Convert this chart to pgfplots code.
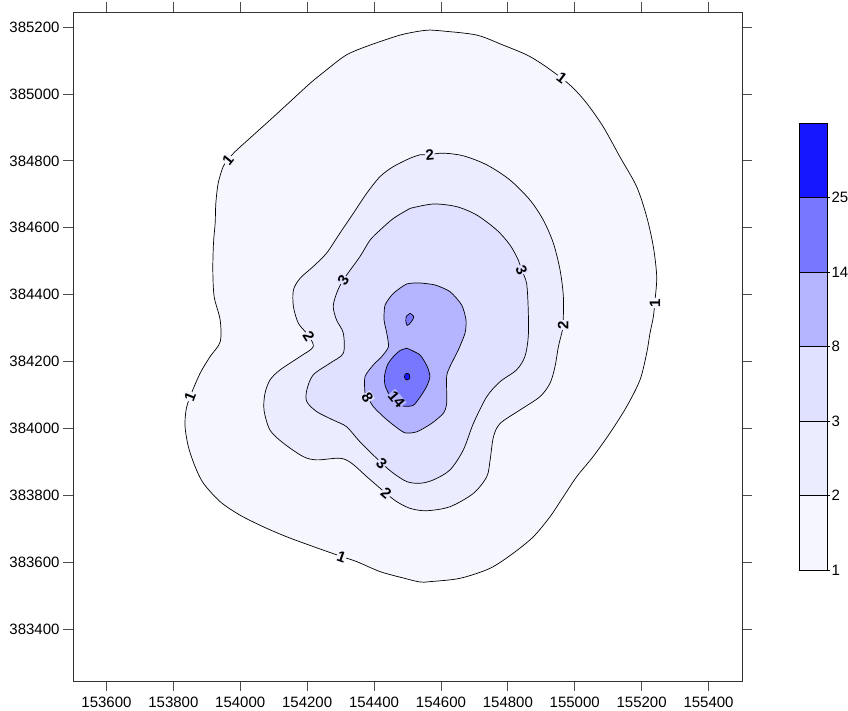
\documentclass[border=0pt]{standalone}
\usepackage{fontspec}
\setmainfont{Liberation Sans}
\usepackage{pgfplots}
\pgfplotsset{compat=1.18}
\definecolor{c1}{RGB}{246,246,255}
\definecolor{c2}{RGB}{236,236,255}
\definecolor{c3}{RGB}{224,224,255}
\definecolor{c4}{RGB}{180,180,255}
\definecolor{c5}{RGB}{120,120,255}
\definecolor{c6}{RGB}{22,22,255}
\begin{document}
\begin{tikzpicture}[x=1pt,y=1pt]
\useasboundingbox (0,0) rectangle (848,711);
\begin{axis}[
  at={(73pt,30pt)}, anchor=south west,
  scale only axis, width=669pt, height=669pt,
  xmin=153500, xmax=155500, ymin=383245, ymax=385245,
  xtick={153600,153800,154000,154200,154400,154600,154800,155000,155200,155400},
  ytick={383400,383600,383800,384000,384200,384400,384600,384800,385000,385200},
  scaled ticks=false,
  /pgf/number format/fixed,
  /pgf/number format/precision=0,
  /pgf/number format/1000 sep={},
  /pgf/number format/assume math mode=true,
  tick align=outside, major tick length=10pt,
  tick label style={font=\fontsize{15}{18}\selectfont},
  xticklabel style={yshift=-3pt},
  axis line style={line width=0.8pt, black!80},
  tick style={line width=0.8pt, black!70},
  clip=true,
]
\addplot[fill=c1, draw=black, line width=0.7pt, smooth, tension=0.5] coordinates {
(154567,385191)(154607,385188)(154707,385176)(154786,385146)(154856,385117)(154906,385087)(154961,385047)(154996,385017)(155036,384972)(155085,384902)(155135,384812)(155185,384723)(155215,384633)(155235,384543)(155245,384454)(155240,384384)(155235,384334)(155225,384285)(155215,384225)(155195,384145)(155155,384065)(155105,383986)(155055,383916)(155006,383856)(154966,383796)(154926,383736)(154876,383676)(154816,383627)(154747,383582)(154657,383552)(154567,383542)(154537,383541)(154487,383553)(154418,383572)(154348,383602)(154303,383617)(154218,383647)(154139,383676)(154069,383706)(153999,383741)(153940,383781)(153890,383836)(153865,383886)(153845,383945)(153835,384005)(153838,384055)(153850,384095)(153880,384165)(153910,384215)(153940,384259)(153940,384324)(153922,384394)(153918,384474)(153920,384554)(153925,384614)(153927,384673)(153934,384733)(153949,384783)(153963,384803)(153984,384827)(154039,384877)(154089,384922)(154149,384977)(154209,385032)(154258,385072)(154318,385117)(154388,385146)(154478,385176)(154537,385188)(154567,385191)
} -- cycle;
\addplot[fill=c2, draw=black, line width=0.7pt, smooth, tension=0.5] coordinates {
(154537,384818)(154567,384819)(154607,384823)(154667,384815)(154737,384788)(154806,384743)(154866,384683)(154906,384623)(154936,384554)(154956,384474)(154966,384394)(154965,384309)(154961,384285)(154951,384244)(154941,384185)(154926,384135)(154896,384095)(154836,384055)(154777,384015)(154757,383975)(154747,383906)(154737,383856)(154697,383806)(154627,383766)(154557,383754)(154508,383761)(154468,383781)(154436,383806)(154378,383856)(154333,383896)(154298,383911)(154229,383906)(154188,383916)(154129,383956)(154089,383995)(154071,384055)(154074,384105)(154089,384145)(154119,384175)(154179,384215)(154218,384244)(154203,384279)(154174,384314)(154159,384364)(154159,384414)(154179,384449)(154218,384484)(154258,384524)(154298,384584)(154338,384643)(154378,384703)(154418,384753)(154458,384783)(154508,384808)(154537,384818)
} -- cycle;
\addplot[fill=c3, draw=black, line width=0.7pt, smooth, tension=0.5] coordinates {
(154508,384658)(154577,384671)(154647,384663)(154707,384638)(154767,384593)(154806,384549)(154831,384504)(154841,384474)(154856,384434)(154861,384354)(154861,384274)(154851,384215)(154826,384175)(154777,384140)(154737,384095)(154697,384015)(154667,383936)(154627,383876)(154577,383846)(154537,383836)(154498,383841)(154458,383866)(154423,383896)(154358,383960)(154318,384005)(154278,384025)(154229,384050)(154199,384080)(154199,384115)(154218,384160)(154268,384195)(154308,384225)(154308,384285)(154288,384324)(154278,384364)(154288,384404)(154308,384444)(154358,384514)(154388,384563)(154418,384593)(154458,384628)(154508,384658)
} -- cycle;
\addplot[fill=c4, draw=black, line width=0.7pt, smooth, tension=0.4] coordinates {
(154537,384435)(154582,384429)(154627,384409)(154662,384369)(154675,384324)(154672,384285)(154652,384235)(154627,384185)(154617,384155)(154617,384075)(154607,384045)(154572,384015)(154528,383990)(154492,383987)(154458,384010)(154428,384035)(154398,384065)(154382,384091)(154373,384105)(154373,384155)(154398,384190)(154423,384215)(154443,384244)(154438,384285)(154430,384324)(154433,384369)(154458,384404)(154498,384432)(154537,384435)
} -- cycle;
\addplot[fill=c5, draw=black, line width=0.7pt, smooth, tension=0.4] coordinates {
(154498,384240)(154537,384220)(154559,384185)(154567,384155)(154557,384125)(154537,384093)(154517,384069)(154487,384067)(154454,384088)(154434,384125)(154431,384155)(154440,384190)(154458,384215)(154478,384233)(154498,384240)
} -- cycle;
\addplot[fill=c5, draw=black, line width=0.7pt, smooth, tension=0.5] coordinates {
(154508,384344)(154518,384336)(154516,384326)(154508,384315)(154499,384308)(154495,384321)(154497,384336)(154508,384344)
} -- cycle;
\addplot[fill=c6, draw=black, line width=0.7pt, smooth, tension=0.5] coordinates {
(154499,384165)(154505,384162)(154507,384155)(154505,384148)(154499,384145)(154493,384148)(154491,384155)(154493,384162)(154499,384165)
} -- cycle;
\tikzset{clab/.style={font=\fontsize{15}{15}\selectfont\bfseries, inner sep=0.6pt}}
\node[clab, fill=c1, rotate=-37] at (axis cs:154961,385047) {1};
\node[clab, fill=c1, rotate=51] at (axis cs:153963,384803) {1};
\node[clab, fill=c1, rotate=69] at (axis cs:153850,384095) {1};
\node[clab, fill=c1, rotate=-19] at (axis cs:154303,383617) {1};
\node[clab, fill=c1, rotate=90] at (axis cs:155240,384375) {1};
\node[clab, fill=c2, rotate=5] at (axis cs:154567,384818) {2};
\node[clab, fill=c2, rotate=90] at (axis cs:154965,384309) {2};
\node[clab, fill=c2, rotate=-58] at (axis cs:154205,384276) {2};
\node[clab, fill=c2, rotate=-40] at (axis cs:154436,383806) {2};
\node[clab, fill=c3, rotate=57] at (axis cs:154308,384444) {3};
\node[clab, fill=c3, rotate=-66] at (axis cs:154841,384474) {3};
\node[clab, fill=c3, rotate=-43] at (axis cs:154423,383896) {3};
\node[clab, fill=c3, rotate=-60] at (axis cs:154380,384093) {8};
\node[clab, fill=c4, rotate=-50] at (axis cs:154467,384087) {14};
\end{axis}
\begin{axis}[
  at={(799pt,141pt)}, anchor=south west,
  scale only axis, width=28pt, height=447pt,
  xmin=0, xmax=1, ymin=0, ymax=6,
  axis line style={draw=none},
  xtick=\empty,
  ytick={0,1,2,3,4,5}, yticklabels={1,2,3,8,14,25},
  ytick pos=right, yticklabel pos=right,
  tick align=outside, major tick length=3pt,
  tick style={line width=0.8pt, black},
  yticklabel style={font=\fontsize{15}{18}\selectfont, xshift=-2pt},
  clip=false,
]
\addplot[fill=c1, draw=black, line width=0.7pt] coordinates {(0,0)(1,0)(1,1)(0,1)} -- cycle;
\addplot[fill=c2, draw=black, line width=0.7pt] coordinates {(0,1)(1,1)(1,2)(0,2)} -- cycle;
\addplot[fill=c3, draw=black, line width=0.7pt] coordinates {(0,2)(1,2)(1,3)(0,3)} -- cycle;
\addplot[fill=c4, draw=black, line width=0.7pt] coordinates {(0,3)(1,3)(1,4)(0,4)} -- cycle;
\addplot[fill=c5, draw=black, line width=0.7pt] coordinates {(0,4)(1,4)(1,5)(0,5)} -- cycle;
\addplot[fill=c6, draw=black, line width=0.7pt] coordinates {(0,5)(1,5)(1,6)(0,6)} -- cycle;
\end{axis}
\end{tikzpicture}
\end{document}
